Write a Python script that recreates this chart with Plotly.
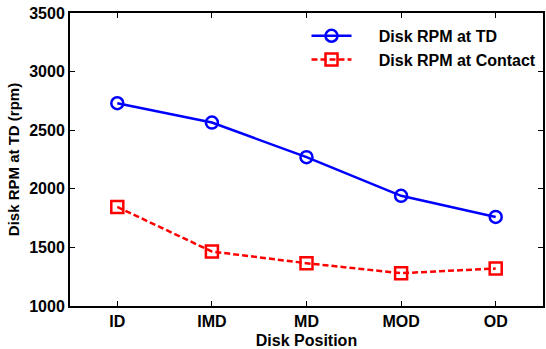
import plotly.graph_objects as go

positions = ["ID", "IMD", "MD", "MOD", "OD"]
rpm_td = [2730, 2565, 2270, 1940, 1760]
rpm_contact = [1845, 1465, 1365, 1280, 1320]
y_ticks = [1000, 1500, 2000, 2500, 3000, 3500]

x_idx = list(range(1, len(positions) + 1))
pad = "\u00a0\u00a0\u00a0\u00a0\u00a0"

fig = go.Figure()
fig.add_trace(go.Scatter(
    x=x_idx, y=rpm_td, name=pad + "Disk RPM at TD", mode="lines+markers",
    line=dict(color="#0000ff", width=2.5),
    marker=dict(symbol="circle-open", size=12, color="#0000ff", line=dict(width=2.5)),
))
fig.add_trace(go.Scatter(
    x=x_idx, y=rpm_contact, name=pad + "Disk RPM at Contact", mode="lines+markers",
    line=dict(color="#ff0000", width=2.5, dash="6px,3px"),
    marker=dict(symbol="square-open", size=12, color="#ff0000", line=dict(width=2.5)),
))

font_fam = "Liberation Sans, Arial, sans-serif"
fig.update_layout(
    width=546, height=349,
    margin=dict(l=70, r=1, t=13, b=43),
    paper_bgcolor="white", plot_bgcolor="white",
    font=dict(family=font_fam, size=16, color="black", weight="bold"),
    showlegend=True,
    legend=dict(x=0.5, y=0.98, xanchor="left", yanchor="top",
                bgcolor="rgba(255,255,255,0)", font=dict(size=16, weight="bold"),
                tracegroupgap=0, itemwidth=40),
)
fig.update_xaxes(
    range=[0.5, 5.5], tickvals=x_idx, ticktext=positions,
    showline=True, linecolor="black", linewidth=2, mirror="ticks",
    ticks="inside", ticklen=5, tickwidth=1, tickcolor="black",
    showgrid=False, zeroline=False,
    title=dict(text="Disk Position", font=dict(size=16, weight="bold"), standoff=7),
    tickfont=dict(size=16, weight="bold"),
)
fig.update_yaxes(
    range=[1000, 3500], tickvals=y_ticks,
    showline=True, linecolor="black", linewidth=2, mirror="ticks",
    ticks="inside", ticklen=5, tickwidth=1, tickcolor="black",
    showgrid=False, zeroline=False,
    title=dict(text="Disk RPM at TD (rpm)", font=dict(size=15, weight="bold"), standoff=6),
    tickfont=dict(size=16, weight="bold"),
)

fig.write_html("out.html", config={"displayModeBar": False},
               post_script="document.body.style.margin='0';")
